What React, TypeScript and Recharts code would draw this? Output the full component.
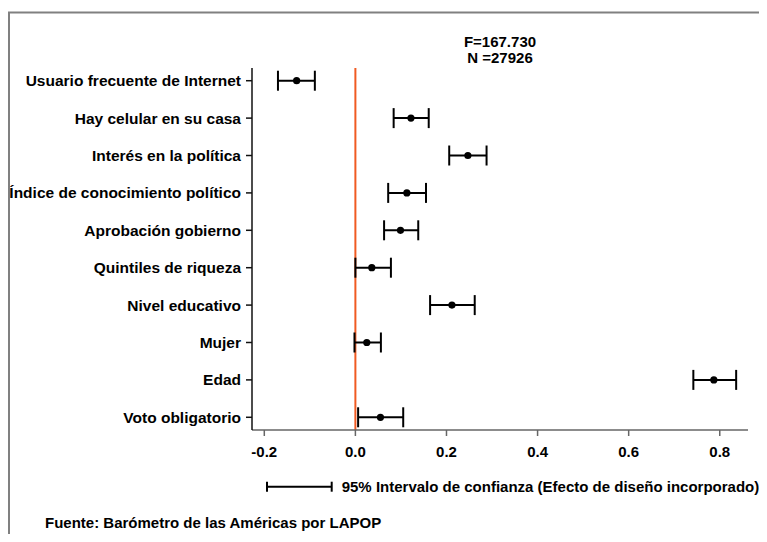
import { ScatterChart, Scatter, XAxis, YAxis, ErrorBar, ReferenceLine } from 'recharts'

// predictors, top to bottom
const LABELS = [
  'Usuario frecuente de Internet',
  'Hay celular en su casa',
  'Interés en la política',
  'Índice de conocimiento político',
  'Aprobación gobierno',
  'Quintiles de riqueza',
  'Nivel educativo',
  'Mujer',
  'Edad',
  'Voto obligatorio',
]
const COEF = [-0.129, 0.122, 0.247, 0.113, 0.099, 0.036, 0.212, 0.025, 0.787, 0.055]
const LOWER = [-0.170, 0.084, 0.206, 0.072, 0.063, 0.0, 0.164, -0.002, 0.742, 0.006]
const UPPER = [-0.089, 0.161, 0.288, 0.155, 0.138, 0.078, 0.262, 0.056, 0.836, 0.105]
const X_TICKS = [-0.2, 0.0, 0.2, 0.4, 0.6, 0.8]
const ROWS = LABELS.map((_, i) => i + 1)

const FONT = '"Liberation Sans", Arial, Helvetica, sans-serif'

const data = LABELS.map((label, i) => ({
  label,
  row: i + 1,
  coef: COEF[i],
  ci: [COEF[i] - LOWER[i], UPPER[i] - COEF[i]],
}))

const Dot = (props: any) => <circle cx={props.cx} cy={props.cy} r={3.6} fill="#000" />

export default function App() {
  return (
    <div
      style={{
        position: 'relative',
        width: 767,
        height: 542,
        margin: -8,
        overflow: 'hidden',
        background: '#fff',
        fontFamily: FONT,
      }}
    >
      <ScatterChart width={767} height={542} margin={{ top: 68, right: 19, bottom: 72, left: 0 }}>
        <XAxis
          type="number"
          dataKey="coef"
          domain={[-0.227, 0.862]}
          ticks={X_TICKS}
          allowDataOverflow
          height={40}
          tickFormatter={(v: number) => v.toFixed(1)}
          tickSize={6}
          tickMargin={10}
          stroke="#666"
          strokeWidth={1.5}
          tick={{ fill: '#000', fontSize: 15, fontWeight: 'bold', fontFamily: FONT }}
        />
        <YAxis
          type="number"
          dataKey="row"
          domain={[0.66, 10.34]}
          reversed
          ticks={ROWS}
          interval={0}
          width={252}
          tickFormatter={(v: number) => LABELS[v - 1]}
          tickSize={6}
          tickMargin={5}
          stroke="#111"
          strokeWidth={1.5}
          tick={{ fill: '#000', fontSize: 15.5, fontWeight: 'bold', fontFamily: FONT }}
        />
        <ReferenceLine x={0} stroke="#F05A22" strokeWidth={2} />
        <Scatter data={data} shape={Dot} isAnimationActive={false}>
          <ErrorBar dataKey="ci" direction="x" width={10} stroke="#000" strokeWidth={2} isAnimationActive={false} />
        </Scatter>
      </ScatterChart>

      <svg
        width={767}
        height={542}
        style={{ position: 'absolute', left: 0, top: 0, pointerEvents: 'none' }}
        fontFamily={FONT}
        fontWeight="bold"
        fontSize={15}
      >
        <rect x={9} y={12.5} width={800} height={600} fill="none" stroke="#808080" strokeWidth={2} />
        <text x={500} y={47} textAnchor="middle">F=167.730</text>
        <text x={500} y={62.7} textAnchor="middle">N =27926</text>
        <g stroke="#000" strokeWidth={2}>
          <line x1={267} y1={486.7} x2={331.7} y2={486.7} />
          <line x1={267} y1={481.7} x2={267} y2={491.7} />
          <line x1={331.7} y1={481.7} x2={331.7} y2={491.7} />
        </g>
        <text x={341.7} y={492}>95% Intervalo de confianza (Efecto de diseño incorporado)</text>
        <text x={45} y={528}>Fuente: Barómetro de las Américas por LAPOP</text>
      </svg>
    </div>
  )
}
